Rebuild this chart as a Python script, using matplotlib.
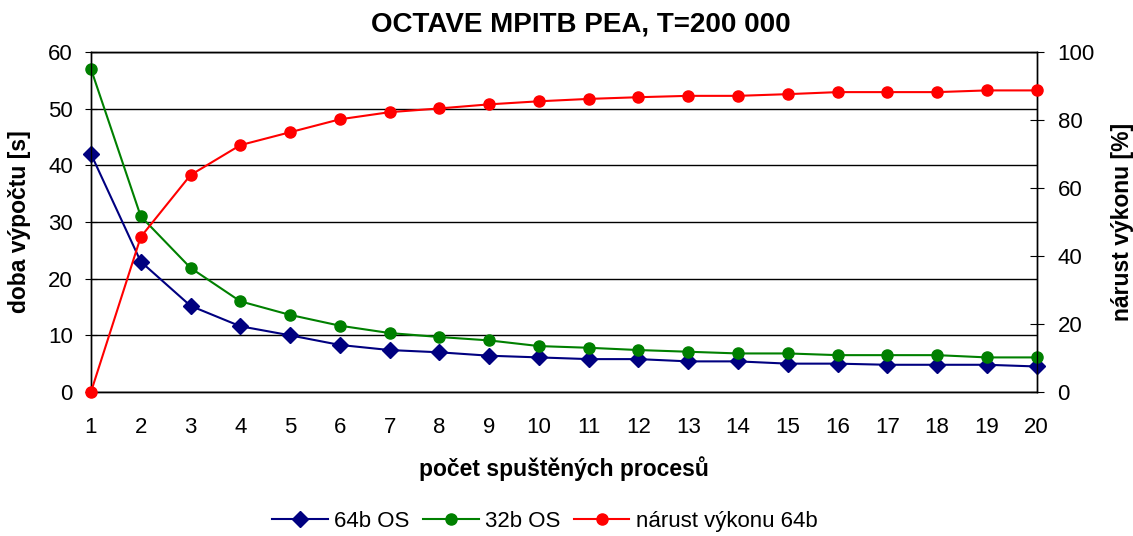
import matplotlib.pyplot as plt
import numpy as np

plt.rcParams['font.family'] = ['Liberation Sans', 'DejaVu Sans']

processes = list(range(1, 21))
cas_64b = [42, 23, 15.2, 11.6, 10, 8.3, 7.4, 7.0, 6.4, 6.1,
           5.8, 5.8, 5.4, 5.4, 5.0, 5.0, 4.8, 4.8, 4.8, 4.5]
cas_32b = [57, 31, 21.9, 16, 13.6, 11.7, 10.4, 9.7, 9.1, 8.1,
           7.8, 7.4, 7.1, 6.8, 6.8, 6.5, 6.5, 6.5, 6.1, 6.1]
narust = [0, 45.6, 63.8, 72.6, 76.4, 80.2, 82.3, 83.4, 84.6, 85.5,
          86.2, 86.7, 87.1, 87.1, 87.6, 88.2, 88.2, 88.2, 88.7, 88.7]

fig = plt.figure(figsize=(11.33, 5.36), dpi=100)
ax = fig.add_axes([0.0803, 0.2687, 0.8347, 0.6343])
ax2 = ax.twinx()

l1, = ax.plot(processes, cas_64b, color='#000080', marker='D', markersize=8.5,
              linewidth=1.5, label='64b OS', zorder=3, clip_on=False)
l2, = ax.plot(processes, cas_32b, color='#008000', marker='o', markersize=8,
              linewidth=1.5, label='32b OS', zorder=3, clip_on=False)
l3, = ax2.plot(processes, narust, color='#FF0000', marker='o', markersize=8,
               linewidth=1.5, label='nárust výkonu 64b', zorder=3, clip_on=False)

ax.set_xlim(1, 20)
ax.set_ylim(0, 60)
ax2.set_ylim(0, 100)
ax.set_yticks(np.arange(0, 61, 10))
ax2.set_yticks(np.arange(0, 101, 20))
ax.set_xticks(processes)
ax.set_xticks(range(1, 20, 2), minor=True)

ax.grid(axis='y', color='black', linewidth=1)
ax.grid(axis='x', which='minor', color='black', linewidth=1)
ax.set_axisbelow(True)

ax.tick_params(axis='x', which='major', length=0, labelsize=16, pad=18)
ax.tick_params(axis='x', which='minor', length=6, direction='out')
ax.tick_params(axis='y', labelsize=16, length=8, direction='inout', pad=9)
ax2.tick_params(axis='y', labelsize=16, length=10, direction='inout', pad=10)

for a in (ax, ax2):
    for s in a.spines.values():
        s.set_color('black')
        s.set_linewidth(1)

ax.set_xlabel('počet spuštěných procesů', fontsize=16.5, fontweight='bold', labelpad=13)
ax.set_ylabel('doba výpočtu [s]', fontsize=16.5, fontweight='bold', labelpad=12)
ax2.set_ylabel('nárust výkonu [%]', fontsize=16.5, fontweight='bold', labelpad=12)
fig.text(0.513, 0.955, 'OCTAVE MPITB PEA, T=200 000', fontsize=20,
         fontweight='bold', ha='center', va='center')

fig.legend(handles=[l1, l2, l3], loc='lower center', bbox_to_anchor=(0.481, -0.03),
           ncol=3, frameon=False, fontsize=16, handlelength=2.5,
           handletextpad=0.3, columnspacing=0.6)

fig.savefig('out.png', dpi=100)
